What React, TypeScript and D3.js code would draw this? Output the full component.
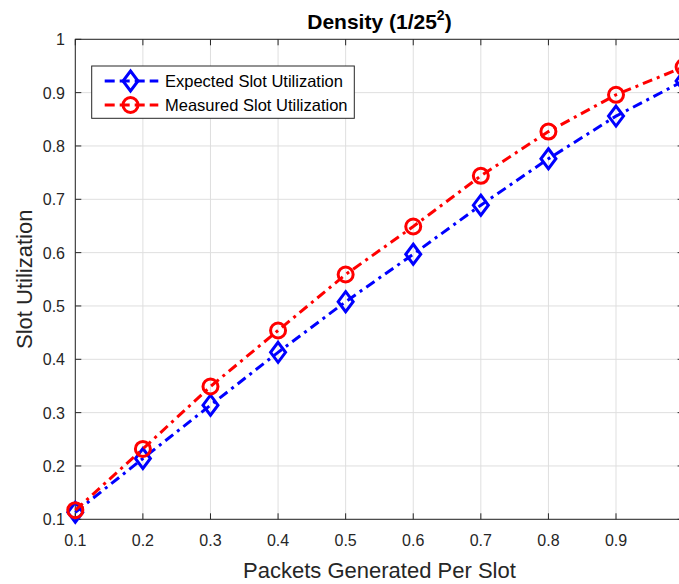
import React from "react";
import * as d3 from "d3";

const packetsPerSlot = [0.1, 0.2, 0.3, 0.4, 0.5, 0.6, 0.7, 0.8, 0.9, 1.0];
const expectedUtil = [0.113, 0.214, 0.314, 0.413, 0.508, 0.597, 0.689, 0.776, 0.856, 0.922];
const measuredUtil = [0.117, 0.232, 0.349, 0.454, 0.559, 0.649, 0.744, 0.827, 0.896, 0.948];
const xTicks = [0.1, 0.2, 0.3, 0.4, 0.5, 0.6, 0.7, 0.8, 0.9, 1.0];
const yTicks = [0.1, 0.2, 0.3, 0.4, 0.5, 0.6, 0.7, 0.8, 0.9, 1.0];
const seriesNames = ["Expected Slot Utilization", "Measured Slot Utilization"];

const W = 679;
const H = 584;
const L = 75.3, R = 683.6, T = 39.3, B = 519.3;
const FONT = "'Liberation Sans', Arial, Helvetica, sans-serif";
const TXT = "#262626";
const DASH = "10,5,3,5";

function fmt(v: number) {
  return v === 1 ? "1" : d3.format(".1f")(v);
}

function Diamond({ cx, cy, color }: { cx: number; cy: number; color: string }) {
  const hw = 7.5, hh = 10;
  return (
    <path
      d={`M${cx},${cy - hh}L${cx + hw},${cy}L${cx},${cy + hh}L${cx - hw},${cy}Z`}
      fill="none"
      stroke={color}
      strokeWidth={3}
    />
  );
}

function Circle({ cx, cy, color }: { cx: number; cy: number; color: string }) {
  return <circle cx={cx} cy={cy} r={7.5} fill="none" stroke={color} strokeWidth={3} />;
}

export default function App() {
  const x = d3.scaleLinear().domain([0.1, 1]).range([L, R]);
  const y = d3.scaleLinear().domain([0.1, 1]).range([B, T]);
  const line = d3
    .line<number>()
    .x((_, i) => x(packetsPerSlot[i]))
    .y((d) => y(d));

  const series = [
    { name: seriesNames[0], data: expectedUtil, color: "#0000ff", marker: "d" },
    { name: seriesNames[1], data: measuredUtil, color: "#ff0000", marker: "o" },
  ];

  const legX = 91.7, legY = 66, legW = 262.6, legH = 52.3;

  return (
    <svg
      width={W}
      height={H}
      style={{ position: "absolute", left: 0, top: 0, background: "#fff" }}
      fontFamily={FONT}
    >
      <rect x={0} y={0} width={W} height={H} fill="#fff" />
      {/* grid */}
      {xTicks.map((t) => (
        <line key={"gx" + t} x1={x(t)} x2={x(t)} y1={T} y2={B} stroke="#dfdfdf" strokeWidth={1} />
      ))}
      {yTicks.map((t) => (
        <line key={"gy" + t} x1={L} x2={R} y1={y(t)} y2={y(t)} stroke="#dfdfdf" strokeWidth={1} />
      ))}
      {/* axes box */}
      <rect x={L} y={T} width={R - L} height={B - T} fill="none" stroke={TXT} strokeWidth={1} />
      {/* ticks */}
      {xTicks.map((t) => (
        <g key={"tx" + t}>
          <line x1={x(t)} x2={x(t)} y1={B} y2={B - 6} stroke={TXT} />
          <line x1={x(t)} x2={x(t)} y1={T} y2={T + 6} stroke={TXT} />
          {t < 1 && (
            <text x={x(t)} y={B + 27} textAnchor="middle" fontSize={16} fill={TXT}>
              {fmt(t)}
            </text>
          )}
        </g>
      ))}
      {yTicks.map((t) => (
        <g key={"ty" + t}>
          <line x1={L} x2={L + 6} y1={y(t)} y2={y(t)} stroke={TXT} />
          <line x1={R} x2={R - 6} y1={y(t)} y2={y(t)} stroke={TXT} />
          <text x={65} y={y(t) + 6} textAnchor="end" fontSize={16} fill={TXT}>
            {fmt(t)}
          </text>
        </g>
      ))}
      {/* series */}
      {series.map((s) => (
        <g key={s.name}>
          <path d={line(s.data) || ""} fill="none" stroke={s.color} strokeWidth={3} strokeDasharray={DASH} />
          {s.data.map((v, i) =>
            s.marker === "d" ? (
              <Diamond key={i} cx={x(packetsPerSlot[i])} cy={y(v)} color={s.color} />
            ) : (
              <Circle key={i} cx={x(packetsPerSlot[i])} cy={y(v)} color={s.color} />
            )
          )}
        </g>
      ))}
      {/* legend */}
      <rect x={legX} y={legY} width={legW} height={legH} fill="#fff" stroke={TXT} strokeWidth={1} />
      {series.map((s, i) => {
        const cy = 81 + i * 24;
        return (
          <g key={"leg" + i}>
            <line x1={102.7} x2={158.3} y1={cy} y2={cy} stroke={s.color} strokeWidth={3} strokeDasharray="10,5" strokeDashoffset={-2} />
            {s.marker === "d" ? <Diamond cx={130.5} cy={cy} color={s.color} /> : <Circle cx={130.5} cy={cy} color={s.color} />}
            <text x={165} y={cy + 6} fontSize={16.5} fill="#000">
              {s.name}
            </text>
          </g>
        );
      })}
      {/* labels */}
      <text x={(L + R) / 2} y={578} textAnchor="middle" fontSize={22} fill={TXT}>
        Packets Generated Per Slot
      </text>
      <text transform={`translate(32,${(T + B) / 2}) rotate(-90)`} textAnchor="middle" fontSize={22} fill={TXT}>
        Slot Utilization
      </text>
      <text x={(L + R) / 2} y={29} textAnchor="middle" fontSize={21} fontWeight="bold" fill="#000">
        Density (1/25<tspan dy={-9} fontSize={14}>2</tspan><tspan dy={9}>)</tspan>
      </text>
    </svg>
  );
}
